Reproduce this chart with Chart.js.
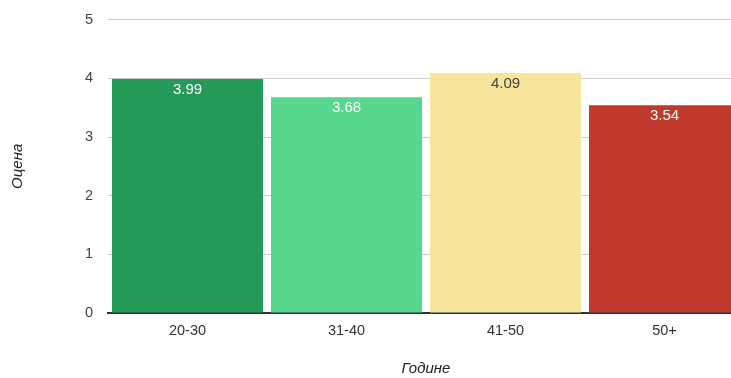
<!DOCTYPE html>
<html>
<head>
<meta charset="utf-8">
<script src="https://cdn.jsdelivr.net/npm/chart.js@4"></script>
<style>
  html, body { margin: 0; padding: 0; overflow: hidden; background: #fff; }
  #wrap { width: 744px; height: 382px; margin-top: -4px; }
</style>
</head>
<body>
<div id="wrap"><canvas id="c"></canvas></div>
<script>
// Просечна оцена по старосним групама
const categories = ['20-30', '31-40', '41-50', '50+'];
const scores = [3.99, 3.68, 4.09, 3.54];
const barColors = ['#239a57', '#57d68d', '#f7e59c', '#c0392b'];
const labelColors = ['#ffffff', '#ffffff', '#444444', '#ffffff'];
const yTicks = [0, 1, 2, 3, 4, 5];

const FONT = '"Liberation Sans", Arial, sans-serif';

// Vrednost ispisana unutar vrha svakog stubića
const valueLabels = {
  id: 'valueLabels',
  afterDatasetsDraw(chart) {
    const ctx = chart.ctx;
    const meta = chart.getDatasetMeta(0);
    ctx.save();
    ctx.font = '15px ' + FONT;
    ctx.textAlign = 'center';
    ctx.textBaseline = 'middle';
    meta.data.forEach((bar, i) => {
      ctx.fillStyle = labelColors[i];
      ctx.fillText(scores[i].toFixed(2), bar.x, bar.y + 11);
    });
    ctx.restore();
  }
};

new Chart(document.getElementById('c'), {
  type: 'bar',
  data: {
    labels: categories,
    datasets: [{
      data: scores,
      backgroundColor: barColors,
      borderWidth: 0,
      categoryPercentage: 1,
      barPercentage: 0.95
    }]
  },
  options: {
    responsive: true,
    maintainAspectRatio: false,
    animation: false,
    layout: { padding: { top: 10, right: 0, bottom: 0, left: 0 } },
    plugins: {
      legend: { display: false },
      tooltip: { enabled: false }
    },
    scales: {
      x: {
        grid: { display: false, drawTicks: false },
        border: { display: true, color: '#333333', width: 2 },
        ticks: {
          color: '#333333',
          font: { family: FONT, size: 14.5 },
          padding: 9,
          maxRotation: 0
        },
        title: {
          display: true,
          text: 'Године',
          color: '#222222',
          font: { family: FONT, size: 15, style: 'italic' },
          padding: { top: 0, bottom: 0 }
        },
        afterFit(scale) { scale.height = 65; }
      },
      y: {
        min: 0,
        max: 5,
        afterBuildTicks(scale) { scale.ticks = yTicks.map(v => ({ value: v })); },
        grid: {
          drawTicks: false,
          color: '#cccccc',
          lineWidth: 1
        },
        border: { display: false },
        ticks: {
          color: '#444444',
          font: { family: FONT, size: 14.5 },
          padding: 15
        },
        title: {
          display: true,
          text: 'Оцена',
          color: '#222222',
          font: { family: FONT, size: 15, style: 'italic' },
          padding: { top: 9, bottom: 0 }
        },
        afterFit(scale) { scale.width = 108; }
      }
    }
  },
  plugins: [valueLabels]
});
</script>
</body>
</html>
